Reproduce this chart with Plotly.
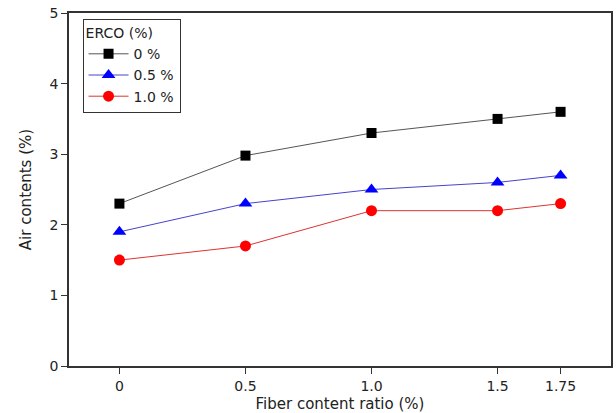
import plotly.graph_objects as go

x_vals = [0, 0.5, 1.0, 1.5, 1.75]
tick_labels = ["0", "0.5", "1.0", "1.5", "1.75"]
series_names = ["0 %", "0.5 %", "1.0 %"]
erco_0 = [2.3, 2.98, 3.3, 3.5, 3.6]
erco_05 = [1.9, 2.3, 2.5, 2.6, 2.7]
erco_10 = [1.5, 1.7, 2.2, 2.2, 2.3]

font_family = "DejaVu Sans, Verdana, sans-serif"

fig = go.Figure()
styles = [
    (erco_0, "#000000", "#555555", "square", 10),
    (erco_05, "#0000ff", "#4444cc", "triangle-up", 12),
    (erco_10, "#ff0000", "#dd3333", "circle", 11),
]
for name, (ys, mc, lc, sym, sz) in zip(series_names, styles):
    fig.add_trace(go.Scatter(
        x=x_vals, y=ys, name=name, mode="lines+markers",
        line=dict(color=lc, width=1),
        marker=dict(color=mc, symbol=sym, size=sz),
    ))

fig.update_layout(
    width=616, height=413,
    margin=dict(l=69, r=5, t=13, b=47),
    plot_bgcolor="white", paper_bgcolor="white",
    font=dict(family=font_family, size=14, color="#222222"),
    showlegend=True,
    legend=dict(
        title=dict(text="ERCO (%)", font=dict(size=14)),
        x=0.025, y=0.983, xanchor="left", yanchor="top",
        bordercolor="#333333", borderwidth=1, bgcolor="white",
        font=dict(size=14), tracegroupgap=0, itemwidth=40,
    ),
)
fig.update_xaxes(
    range=[-0.2, 1.95], tickmode="array", tickvals=x_vals, ticktext=tick_labels,
    showline=True, linecolor="#333333", linewidth=1.5, mirror=True,
    ticks="outside", ticklen=6, tickcolor="#333333", showgrid=False, zeroline=False,
    title=dict(text="Fiber content ratio (%)", font=dict(size=15), standoff=8),
    tickfont=dict(size=14), automargin=False,
)
fig.update_yaxes(
    range=[0, 5], tickvals=[0, 1, 2, 3, 4, 5],
    showline=True, linecolor="#333333", linewidth=1.5, mirror=True,
    ticks="outside", ticklen=6, tickcolor="#333333", showgrid=False, zeroline=False,
    title=dict(text="Air contents (%)", font=dict(size=15), standoff=14),
    tickfont=dict(size=14), automargin=False,
)

fig.write_html("out.html")
